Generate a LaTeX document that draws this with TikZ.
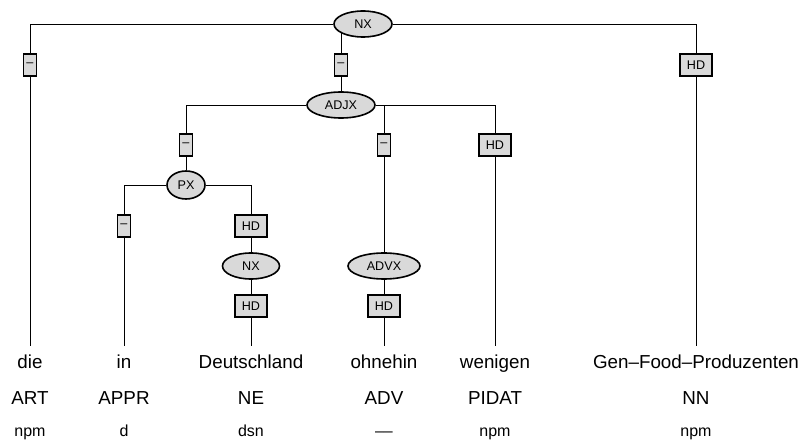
\documentclass[tikz,border=0pt]{standalone}
\usepackage{fontspec}
\setmainfont{Liberation Sans}
\usetikzlibrary{shapes.geometric,backgrounds}
\definecolor{catgray}{HTML}{D9D9D9}
\begin{document}
\begin{tikzpicture}[x=0.5pt,y=-0.5pt,line width=0.8pt,
  cat/.style={ellipse,draw,fill=catgray,inner sep=0pt,minimum height=13pt,font=\fontsize{6.3}{7}\selectfont},
  fn/.style={rectangle,draw,fill=catgray,inner sep=0pt,minimum height=11pt,minimum width=6.5pt,font=\fontsize{6.3}{7}\selectfont},
  hd/.style={fn,minimum width=16pt},
  word/.style={anchor=north,inner sep=4pt,text height=7pt,text depth=2pt,font=\fontsize{9.4}{11}\selectfont},
  tag/.style={anchor=base,inner sep=0pt,font=\fontsize{9.4}{11}\selectfont},
  morph/.style={anchor=base,inner sep=0pt,font=\fontsize{8}{10}\selectfont}]
\useasboundingbox (0,0) rectangle (805,444);
% phrase nodes
\node[cat,minimum width=29pt] (nx) at (363,24) {NX};
\node[cat,minimum width=34pt] (adjx) at (341,105) {ADJX};
\node[cat,minimum width=19pt,minimum height=14pt] (px) at (186,185) {PX};
\node[cat,minimum width=28.5pt] (nxb) at (251,266) {NX};
\node[cat,minimum width=36pt] (advx) at (384,266) {ADVX};
% edge labels
\node[fn] (f1) at (30,65) {–};
\node[fn] (f2) at (341,65) {–};
\node[hd] (f3) at (696,65) {HD};
\node[fn] (f4) at (186,145) {–};
\node[fn] (f5) at (384,145) {–};
\node[hd] (f6) at (495,145) {HD};
\node[fn] (f7) at (124,226) {–};
\node[hd] (f8) at (251,226) {HD};
\node[hd] (f9) at (251,306) {HD};
\node[hd] (f10) at (384,306) {HD};
% words, tags, morphology
\node[word] (w1) at (30,346) {die};
\node[word] (w2) at (124,346) {in};
\node[word] (w3) at (251,346) {Deutschland};
\node[word] (w4) at (384,346) {ohnehin};
\node[word] (w5) at (495,346) {wenigen};
\node[word] (w6) at (696,346) {Gen–Food–Produzenten};
\node[tag] (t1) at (30,405) {ART};
\node[tag] (t2) at (124,405) {APPR};
\node[tag] (t3) at (251,405) {NE};
\node[tag] (t4) at (384,405) {ADV};
\node[tag] (t5) at (495,405) {PIDAT};
\node[tag] (t6) at (696,405) {NN};
\node[morph] (m1) at (30,437) {npm};
\node[morph] (m2) at (124,437) {d};
\node[morph] (m3) at (251,437) {dsn};
\node[morph] (m4) at (384,437) {–{}–};
\node[morph] (m5) at (495,437) {npm};
\node[morph] (m6) at (696,437) {npm};
\begin{pgfonlayer}{background}
\draw (nx) -| (f1) -- (w1);
\draw (f2 |- nx) -- (f2) -- (adjx);
\draw (nx) -| (f3) -- (w6);
\draw (adjx) -| (f4) -- (px);
\draw (adjx) -| (f5) -- (advx) -- (f10) -- (w4);
\draw (adjx) -| (f6) -- (w5);
\draw (px) -| (f7) -- (w2);
\draw (px) -| (f8) -- (nxb) -- (f9) -- (w3);
\end{pgfonlayer}
\end{tikzpicture}
\end{document}
